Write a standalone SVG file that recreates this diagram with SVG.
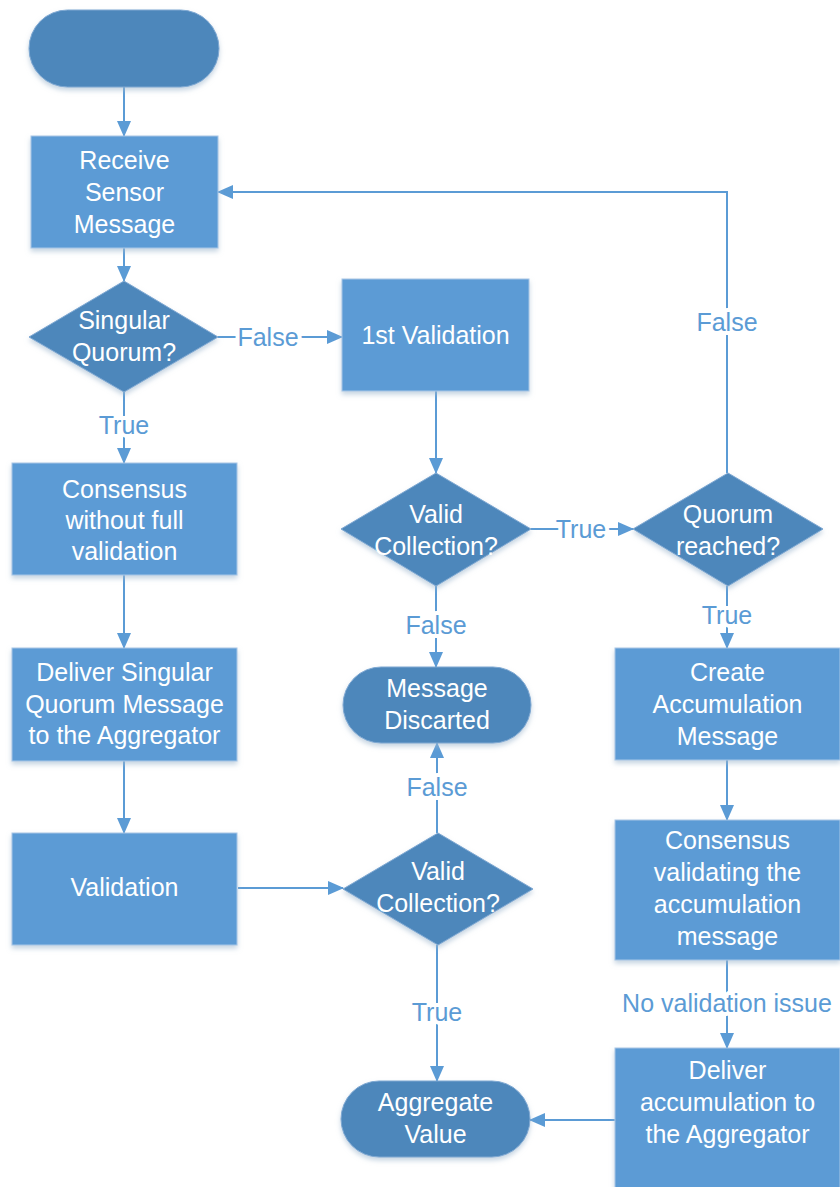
<svg xmlns="http://www.w3.org/2000/svg" width="840" height="1187" viewBox="0 0 840 1187">
<defs>
<marker id="ah" markerUnits="userSpaceOnUse" markerWidth="16" markerHeight="14" refX="15" refY="7" orient="auto">
<path d="M0,0 L16,7 L0,14 Z" fill="#5b9bd5"/>
</marker>
<filter id="sh" x="-10%" y="-10%" width="120%" height="130%">
<feDropShadow dx="0" dy="3" stdDeviation="2.5" flood-color="#9fb7cf" flood-opacity="0.6"/>
</filter>
</defs>
<style>
.box{fill:#5b9bd5;stroke:#a9c6e6;stroke-width:1;filter:url(#sh)}
.dk{fill:#4e87bb;stroke:#7ea8d2;stroke-width:1;filter:url(#sh)}
.t{font-family:"Liberation Sans",Arial,sans-serif;font-size:25px;fill:#ffffff;text-anchor:middle}
.c{fill:none;stroke:#5b9bd5;stroke-width:2;marker-end:url(#ah)}
.l{font-family:"Liberation Sans",Arial,sans-serif;font-size:25px;fill:#5b9bd5;text-anchor:middle;stroke:#ffffff;stroke-width:8;paint-order:stroke;stroke-linejoin:round}
</style>
<rect width="840" height="1187" fill="#ffffff"/>
<g id="connectors">
<path class="c" d="M124,87 V136"/>
<path class="c" d="M124,248 V281"/>
<path class="c" d="M218,337 H342"/>
<path class="c" d="M124,392 V463"/>
<path class="c" d="M124,575 V648"/>
<path class="c" d="M124,761 V833"/>
<path class="c" d="M238,888 H343"/>
<path class="c" d="M436,391 V473"/>
<path class="c" d="M531,529 H633"/>
<path class="c" d="M436,586 V667"/>
<path class="c" d="M727,473 V192 H218"/>
<path class="c" d="M727,586 V648"/>
<path class="c" d="M727,760 V820"/>
<path class="c" d="M727,960 V1048"/>
<path class="c" d="M437,833 V743"/>
<path class="c" d="M437,945 V1081"/>
<path class="c" d="M615,1120 H530"/>
<text class="l" x="268" y="346">False</text>
<text class="l" x="124" y="434">True</text>
<text class="l" x="727" y="331">False</text>
<text class="l" x="581" y="538">True</text>
<text class="l" x="436" y="634">False</text>
<text class="l" x="727" y="624">True</text>
<text class="l" x="437" y="796">False</text>
<text class="l" x="437" y="1021">True</text>
<text class="l" x="727" y="1012">No validation issue</text>
</g>
<g id="start"><rect class="dk" x="29" y="10" width="190" height="77" rx="38.5"/></g>
<g id="receive"><rect class="box" x="31" y="136" width="187" height="112"/>
<text class="t" x="124.5" y="169">Receive</text><text class="t" x="124.5" y="201">Sensor</text><text class="t" x="124.5" y="233">Message</text></g>
<g id="singular"><polygon class="dk" points="124,281 218,337 124,392 29,337"/>
<text class="t" x="124" y="329">Singular</text><text class="t" x="124" y="361">Quorum?</text></g>
<g id="firstval"><rect class="box" x="342" y="279" width="187" height="112"/>
<text class="t" x="435.5" y="344">1st Validation</text></g>
<g id="consensus1"><rect class="box" x="12" y="463" width="225" height="112"/>
<text class="t" x="124.5" y="498">Consensus</text><text class="t" x="124.5" y="529">without full</text><text class="t" x="124.5" y="560">validation</text></g>
<g id="deliver1"><rect class="box" x="12" y="648" width="225" height="113"/>
<text class="t" x="124.5" y="681">Deliver Singular</text><text class="t" x="124.5" y="713">Quorum Message</text><text class="t" x="124.5" y="744">to the Aggregator</text></g>
<g id="validation"><rect class="box" x="12" y="833" width="225" height="112"/>
<text class="t" x="124.5" y="896">Validation</text></g>
<g id="valid1"><polygon class="dk" points="436,473 531,529 436,586 341,529"/>
<text class="t" x="436" y="523">Valid</text><text class="t" x="436" y="555">Collection?</text></g>
<g id="quorum"><polygon class="dk" points="728,473 823,529 728,586 633,529"/>
<text class="t" x="728" y="523">Quorum</text><text class="t" x="728" y="555">reached?</text></g>
<g id="discarded"><rect class="dk" x="343" y="667" width="188" height="76" rx="38"/>
<text class="t" x="437" y="697">Message</text><text class="t" x="437" y="729">Discarted</text></g>
<g id="create"><rect class="box" x="615" y="648" width="225" height="112"/>
<text class="t" x="727.5" y="681">Create</text><text class="t" x="727.5" y="713">Accumulation</text><text class="t" x="727.5" y="745">Message</text></g>
<g id="consensus2"><rect class="box" x="615" y="820" width="225" height="140"/>
<text class="t" x="727.5" y="849">Consensus</text><text class="t" x="727.5" y="881">validating the</text><text class="t" x="727.5" y="913">accumulation</text><text class="t" x="727.5" y="945">message</text></g>
<g id="valid2"><polygon class="dk" points="438,833 533,889 438,945 343,889"/>
<text class="t" x="438" y="880">Valid</text><text class="t" x="438" y="912">Collection?</text></g>
<g id="aggregate"><rect class="dk" x="341" y="1081" width="189" height="76" rx="38"/>
<text class="t" x="435.5" y="1111">Aggregate</text><text class="t" x="435.5" y="1143">Value</text></g>
<g id="deliver2"><rect class="box" x="615" y="1048" width="225" height="150"/>
<text class="t" x="727.5" y="1079">Deliver</text><text class="t" x="727.5" y="1111">accumulation to</text><text class="t" x="727.5" y="1143">the Aggregator</text></g>
</svg>
